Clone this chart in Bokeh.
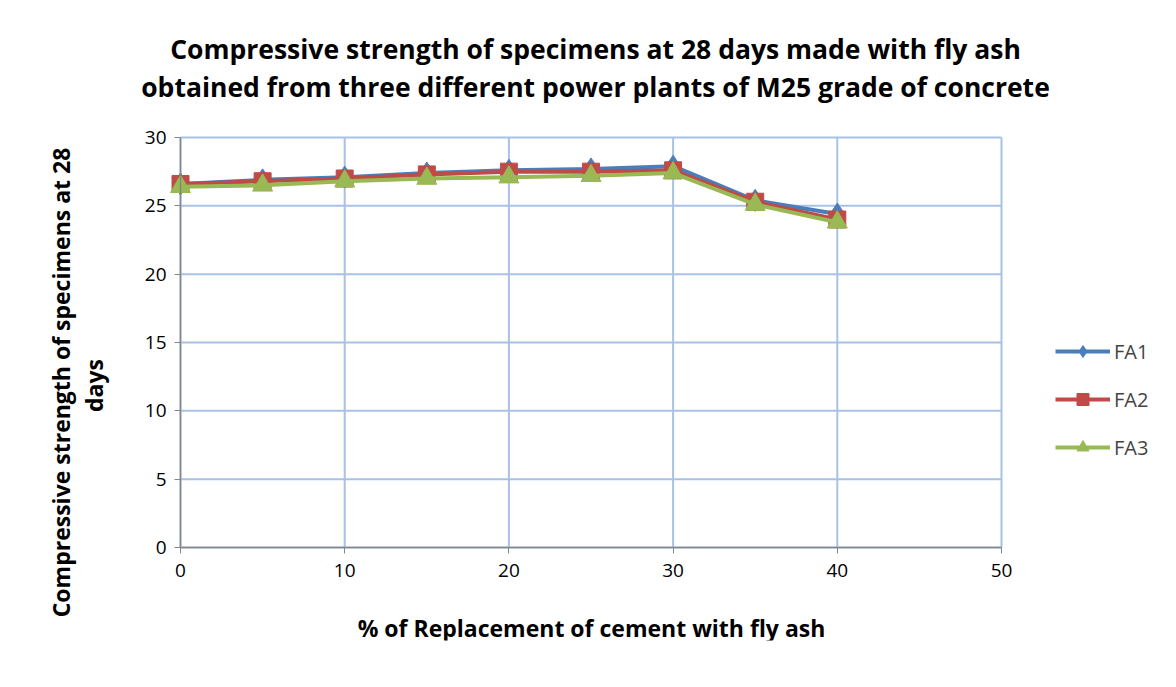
from bokeh.plotting import figure
from bokeh.models import Range1d, Legend, LegendItem, FixedTicker, Label
from bokeh.embed import file_html
from bokeh.resources import INLINE
import math

replacement = [0, 5, 10, 15, 20, 25, 30, 35, 40]
fa1 = [26.6, 26.9, 27.1, 27.4, 27.6, 27.7, 27.9, 25.4, 24.4]
fa2 = [26.6, 26.8, 27.0, 27.3, 27.5, 27.5, 27.6, 25.3, 24.0]
fa3 = [26.4, 26.5, 26.8, 27.0, 27.1, 27.2, 27.4, 25.1, 23.8]
x_ticks = [0, 10, 20, 30, 40, 50]
y_ticks = [0, 5, 10, 15, 20, 25, 30]

FONT = "Open Sans"
X_MAX, Y_MAX = 50, 30
# layout in page pixels: plot area (0..50 x 0..30) spans x 180..1001, y 137..547
AX_L, AX_R, AX_T, AX_B = 180, 1001, 137, 547
FIG_W = 1168
BORDER_L, BORDER_R, BORDER_T = 45, 8, 8
FRAME_BOTTOM = 640
PX_X = (AX_R - AX_L) / X_MAX
PX_Y = (AX_B - AX_T) / Y_MAX
FRAME_W = FIG_W - BORDER_L - BORDER_R
FRAME_H = FRAME_BOTTOM - BORDER_T

def dx(px):
    return (px - AX_L) / PX_X

def dy(py):
    return (AX_B - py) / PX_Y

p = figure(frame_width=FRAME_W, frame_height=FRAME_H, output_backend="svg", toolbar_location=None,
           x_range=Range1d(dx(BORDER_L), dx(BORDER_L + FRAME_W)),
           y_range=Range1d(dy(FRAME_BOTTOM), dy(BORDER_T)),
           min_border_left=BORDER_L, min_border_right=BORDER_R, min_border_top=BORDER_T,
           min_border_bottom=20)
p.outline_line_color = None
p.background_fill_color = "white"
p.border_fill_color = "white"

p.xaxis.ticker = FixedTicker(ticks=x_ticks)
p.yaxis.ticker = FixedTicker(ticks=y_ticks)
p.xaxis.bounds = (0, X_MAX)
p.yaxis.bounds = (0, Y_MAX)
p.xaxis.fixed_location = 0
p.yaxis.fixed_location = 0
for ax in (p.xaxis, p.yaxis):
    ax.axis_line_color = "#868686"
    ax.axis_line_width = 1.5
    ax.major_tick_line_color = "#868686"
    ax.major_tick_out = 6
    ax.major_tick_in = 0
    ax.minor_tick_line_color = None
    ax.major_label_text_font = FONT
    ax.major_label_text_font_size = "19px"
    ax.major_label_text_color = "black"
p.xaxis.major_label_standoff = 10
p.yaxis.major_label_standoff = 8

GRID = "#a8c1e6"
p.xgrid.visible = False
p.ygrid.visible = False
p.segment(x0=[0] * len(y_ticks), x1=[X_MAX] * len(y_ticks), y0=y_ticks, y1=y_ticks,
          line_color=GRID, line_width=2)
p.segment(x0=x_ticks, x1=x_ticks, y0=[0] * len(x_ticks), y1=[Y_MAX] * len(x_ticks),
          line_color=GRID, line_width=2)

series = [
    ("FA1", fa1, "#4a7ebb", "diamond", 22),
    ("FA2", fa2, "#be4b48", "square", 17),
    ("FA3", fa3, "#98b954", "triangle", 20),
]
items = []
for name, ys, col, mk, sz in series:
    l = p.line(replacement, ys, line_color=col, line_width=4)
    m = p.scatter(replacement, ys, marker=mk, size=sz, fill_color=col, line_color=col)
    items.append(LegendItem(label=name, renderers=[l, m]))

legend = Legend(items=items, location=(1055 - BORDER_L, 85 + FRAME_BOTTOM - AX_B),
                orientation="vertical")
legend.border_line_color = None
legend.background_fill_alpha = 0
legend.label_text_font = FONT
legend.label_text_font_size = "20px"
legend.glyph_width = 55
legend.glyph_height = 30
legend.spacing = 18
legend.label_standoff = 4
legend.padding = 10
legend.margin = 0
p.add_layout(legend, "center")

TT = dict(text_font=FONT, text_font_style="bold", text_font_size="26.5px", text_color="black",
          text_align="center", text_baseline="middle")
p.add_layout(Label(x=dx(595), y=dy(48),
                   text="Compressive strength of specimens at 28 days made with fly ash", **TT))
p.add_layout(Label(x=dx(595), y=dy(86),
                   text="obtained from three different power plants of M25 grade of concrete", **TT))

LB = dict(text_font=FONT, text_font_style="bold", text_font_size="23px", text_color="black",
          text_align="center", text_baseline="middle")
p.add_layout(Label(x=dx(60), y=dy(382), angle=math.pi / 2,
                   text="Compressive strength of specimens at 28", **LB))
p.add_layout(Label(x=dx(93), y=dy(385), angle=math.pi / 2, text="days", **LB))
p.add_layout(Label(x=dx(591), y=dy(627), text="% of Replacement of cement with fly ash", **LB))

open("out.html", "w").write(file_html(p, INLINE))
